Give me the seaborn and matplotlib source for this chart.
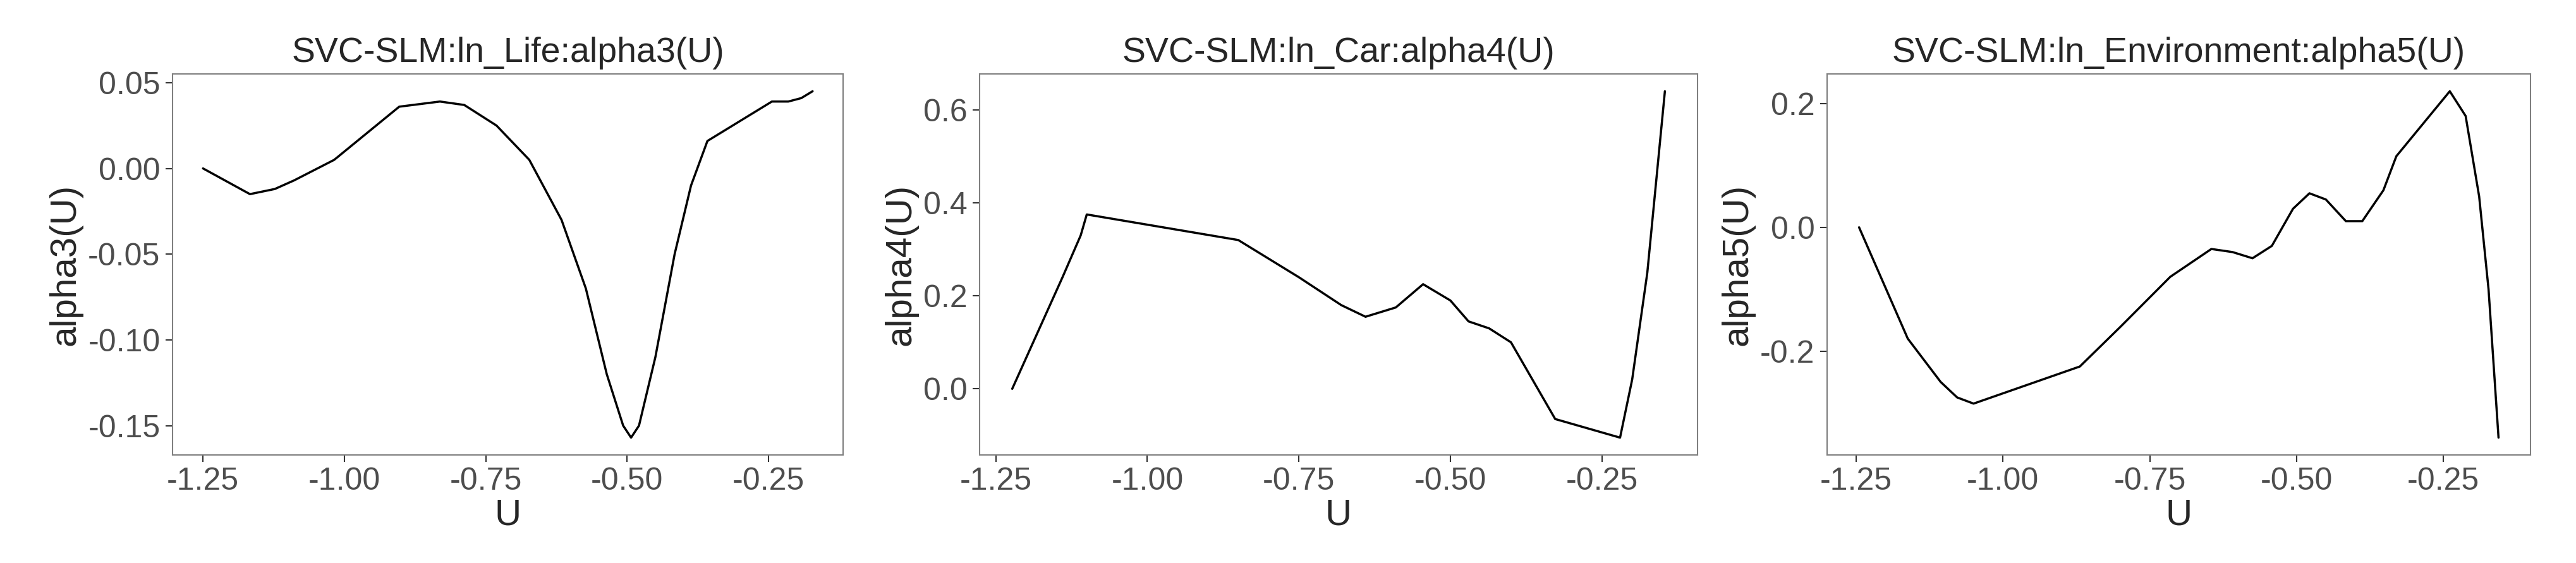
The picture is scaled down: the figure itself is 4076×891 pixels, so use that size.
import numpy as np
import pandas as pd
import matplotlib
matplotlib.use("Agg")
import matplotlib.pyplot as plt
import seaborn as sns

# values (U, alpha)
u3 = [-1.250, -1.167, -1.123, -1.089, -1.018, -0.903, -0.831, -0.788, -0.731, -0.673,
      -0.616, -0.573, -0.536, -0.507, -0.493, -0.479, -0.450, -0.416, -0.387, -0.358,
      -0.244, -0.215, -0.192, -0.172]
a3 = [0.000, -0.015, -0.012, -0.007, 0.005, 0.036, 0.039, 0.037, 0.025, 0.005,
      -0.030, -0.070, -0.120, -0.150, -0.157, -0.150, -0.110, -0.050, -0.010, 0.016,
      0.039, 0.039, 0.041, 0.045]

u4 = [-1.223, -1.140, -1.110, -1.100, -0.850, -0.750, -0.680, -0.640, -0.590, -0.545,
      -0.500, -0.470, -0.436, -0.400, -0.327, -0.220, -0.200, -0.175, -0.146]
a4 = [0.000, 0.240, 0.330, 0.375, 0.320, 0.240, 0.180, 0.155, 0.175, 0.225,
      0.190, 0.145, 0.130, 0.100, -0.065, -0.105, 0.020, 0.250, 0.640]

u5 = [-1.245, -1.162, -1.106, -1.078, -1.050, -0.869, -0.799, -0.715, -0.645, -0.609,
      -0.575, -0.542, -0.506, -0.478, -0.450, -0.416, -0.388, -0.352, -0.330, -0.239,
      -0.212, -0.189, -0.173, -0.156]
a5 = [0.000, -0.180, -0.250, -0.275, -0.285, -0.225, -0.160, -0.080, -0.035, -0.040,
      -0.050, -0.030, 0.030, 0.055, 0.045, 0.010, 0.010, 0.060, 0.115, 0.220,
      0.180, 0.050, -0.100, -0.340]

panels = [
    (u3, a3, "SVC-SLM:ln_Life:alpha3(U)", "alpha3(U)", [-0.15, -0.10, -0.05, 0.00, 0.05], "{:.2f}"),
    (u4, a4, "SVC-SLM:ln_Car:alpha4(U)", "alpha4(U)", [0.0, 0.2, 0.4, 0.6], "{:.1f}"),
    (u5, a5, "SVC-SLM:ln_Environment:alpha5(U)", "alpha5(U)", [-0.2, 0.0, 0.2], "{:.1f}"),
]
xticks = [-1.25, -1.00, -0.75, -0.50, -0.25]

sns.set_theme(style="white")
plt.rcParams['font.family'] = ['Liberation Sans', 'DejaVu Sans']

W, H = 4076, 891
fig = plt.figure(figsize=(W / 100, H / 100), dpi=100)
boxes = [(273, 1334), (1550, 2686), (2891, 4004)]
top, bottom = 117, 720

for (u, a, title, ylab, yt, fmt), (l, r) in zip(panels, boxes):
    ax = fig.add_axes([l / W, 1 - bottom / H, (r - l) / W, (bottom - top) / H])
    df = pd.DataFrame({"U": u, "alpha": a})
    sns.lineplot(data=df, x="U", y="alpha", ax=ax, color="black", linewidth=2.5, sort=False)
    ax.margins(x=0.05, y=0.05)
    ax.set_xticks(xticks)
    ax.set_xticklabels([f"{t:.2f}" for t in xticks])
    ax.set_yticks(yt)
    ax.set_yticklabels([fmt.format(t) for t in yt])
    ax.tick_params(axis="both", labelsize=36, labelcolor="#4D4D4D", length=8, width=1.5,
                   color="#333333", direction="out", bottom=True, left=True, pad=6)
    for s in ax.spines.values():
        s.set_color("#7F7F7F")
        s.set_linewidth(1.5)
    ax.set_title(title, fontsize=40, pad=14)
    ax.set_xlabel("U", fontsize=42, labelpad=2)
    ax.set_ylabel(ylab, fontsize=42, labelpad=6)

fig.savefig("out.png", dpi=100)
